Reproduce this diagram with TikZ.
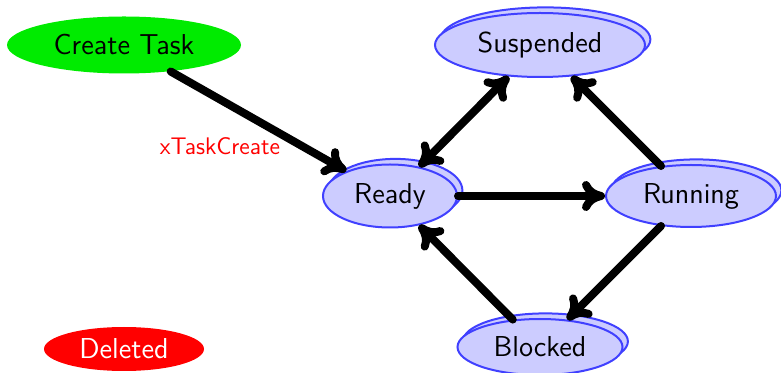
\documentclass[tikz,border=0pt]{standalone}
\usetikzlibrary{shapes.geometric,arrows.meta,shadows}

\definecolor{statefill}{RGB}{204,204,255}
\definecolor{stateborder}{RGB}{64,64,255}
\definecolor{startgreen}{RGB}{0,235,0}

\tikzset{
  x=0.5pt, y=-0.5pt,
  state/.style={ellipse, draw=stateborder, fill=statefill, line width=1pt,
    font=\sffamily\Large, inner sep=0pt,
    copy shadow={shadow xshift=2.7pt, shadow yshift=2.8pt,
      fill=statefill, draw=stateborder, line width=1pt}},
  terminal/.style={ellipse, draw=none, font=\sffamily\Large, inner sep=0pt},
  tip/.tip={To[length=11.5pt,width=15pt,round]},
  flow/.style={line width=4pt, line cap=round, -tip},
  biflow/.style={line width=4pt, line cap=round, tip-tip},
}

\begin{document}
\begin{tikzpicture}
  \useasboundingbox (0,0) rectangle (781,373);

  % entry and exit states
  \node[terminal, fill=startgreen, minimum width=117pt, minimum height=28.5pt]
    (create) at (124,45) {Create Task};
  \node[terminal, fill=red, text=white, minimum width=80pt, minimum height=22pt]
    (deleted) at (124,349) {Deleted};

  % task states
  \node[state, minimum width=105pt, minimum height=32pt] (suspended) at (540,45) {Suspended};
  \node[state, minimum width=67pt, minimum height=31.5pt] (ready) at (390,196) {Ready};
  \node[state, minimum width=85pt, minimum height=31pt] (running) at (691,196) {Running};
  \node[state, minimum width=82.5pt, minimum height=28pt] (blocked) at (540,347) {Blocked};

  % transitions
  \draw[flow] (create) -- (ready);
  \node[text=red, font=\sffamily\large] (lbl) at (220,146) {xTaskCreate};
  \draw[biflow] (ready) -- (suspended);
  \draw[flow] (ready) -- (running);
  \draw[flow] (running) -- (suspended);
  \draw[flow] (running) -- (blocked);
  \draw[flow] (blocked) -- (ready);
\end{tikzpicture}
\end{document}
